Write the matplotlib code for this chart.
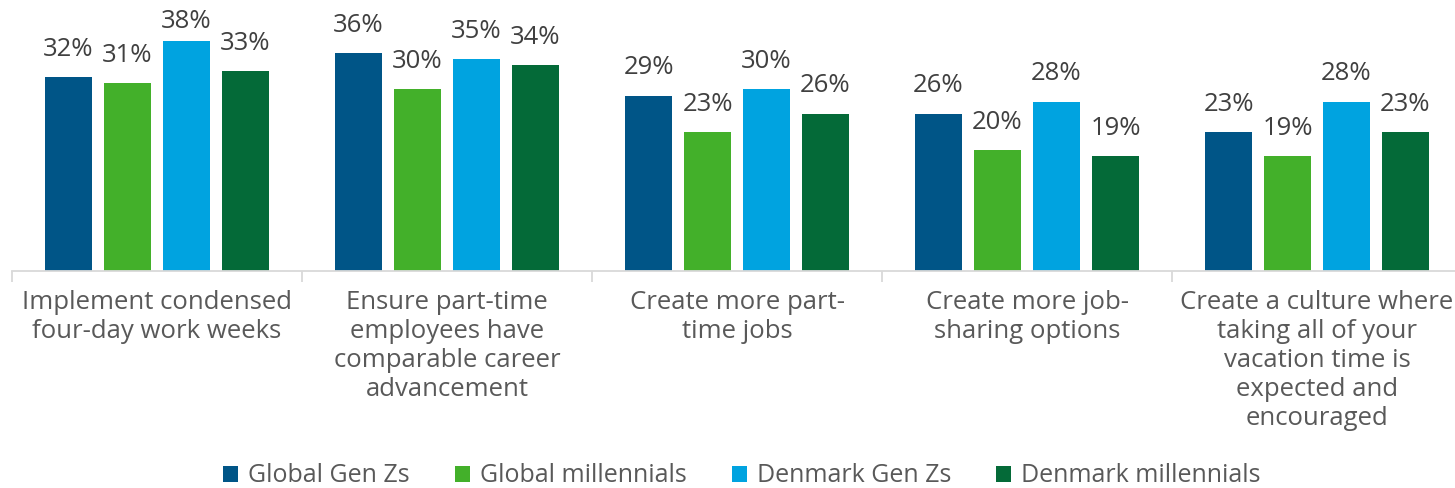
import matplotlib
matplotlib.use("Agg")
import matplotlib.pyplot as plt
import numpy as np

plt.rcParams['font.family'] = ['Open Sans', 'DejaVu Sans']

# categories and series values (percent)
categories = [
    'Implement condensed\nfour-day work weeks',
    'Ensure part-time\nemployees have\ncomparable career\nadvancement',
    'Create more part-\ntime jobs',
    'Create more job-\nsharing options',
    'Create a culture where\ntaking all of your\nvacation time is\nexpected and\nencouraged',
]
series_names = ['Global Gen Zs', 'Global millennials', 'Denmark Gen Zs', 'Denmark millennials']
global_genz = [32, 36, 29, 26, 23]
global_mill = [31, 30, 23, 20, 19]
denmark_genz = [38, 35, 30, 28, 28]
denmark_mill = [33, 34, 26, 19, 23]
colors = ['#005587', '#43B02A', '#00A3E0', '#046A38']

fig = plt.figure(figsize=(14.55, 4.88), dpi=100)
ax = fig.add_axes([12 / 1455, 217 / 488, 1450 / 1455, 242 / 488])

x = np.arange(len(categories))
step = 0.2034
width = 0.162
all_series = [global_genz, global_mill, denmark_genz, denmark_mill]
for i, (vals, name, c) in enumerate(zip(all_series, series_names, colors)):
    bars = ax.bar(x + (i - 1.5) * step, vals, width, color=c, label=name)
    for b, v in zip(bars, vals):
        # the tallest label gets squeezed down so it stays inside the picture
        pad = 5 if v >= 37 else 11
        ax.annotate('%d%%' % v, (b.get_x() + b.get_width() / 2, b.get_height()),
                    xytext=(0, pad), textcoords='offset points', ha='center',
                    va='bottom', fontsize=18.5, color='#404040')

ax.set_xlim(-0.5, len(categories) - 0.5)
ax.set_ylim(0, 40)
ax.set_yticks([])
for s in ['top', 'right', 'left']:
    ax.spines[s].set_visible(False)
ax.spines['bottom'].set_color('#D9D9D9')
ax.spines['bottom'].set_linewidth(1.3)

# category labels centered, boundary tick marks
ax.set_xticks(x)
ax.set_xticklabels(categories, fontsize=18.5, color='#595959', linespacing=1.21)
ax.tick_params(axis='x', length=0, pad=14)
ax.set_xticks(np.arange(len(categories) + 1) - 0.5, minor=True)
ax.tick_params(axis='x', which='minor', length=8, color='#D9D9D9', width=1.3)

fig.legend(loc='center', bbox_to_anchor=(0.51, 12 / 488), ncol=4, frameon=False,
           fontsize=18, handlelength=0.6, handleheight=0.6, handletextpad=0.4,
           columnspacing=1.8, labelcolor='#595959', borderpad=0.1)

fig.savefig('out.png', dpi=100)
